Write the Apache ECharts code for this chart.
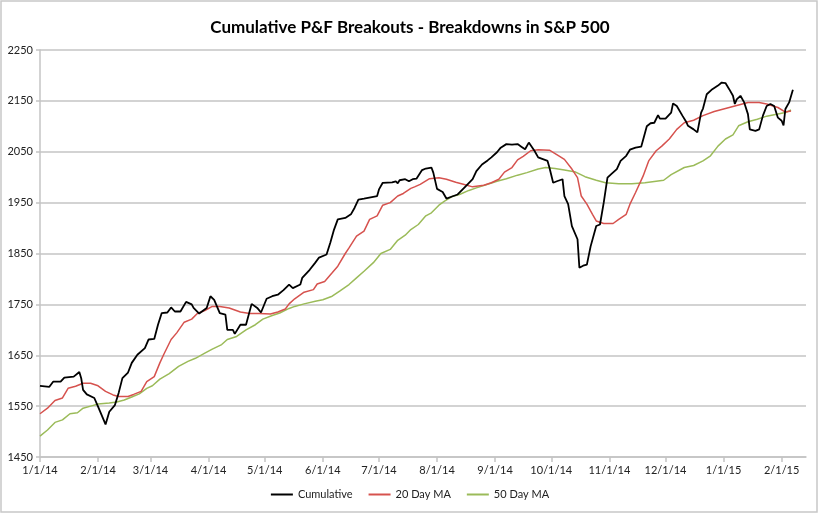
<!DOCTYPE html>
<html>
<head>
<meta charset="utf-8">
<script src="https://cdn.jsdelivr.net/npm/echarts@6/dist/echarts.min.js"></script>
<style>html,body{margin:0;padding:0;background:#fff}#c{width:820px;height:514px}</style>
</head>
<body>
<div id="c"></div>
<script>
const titleText = 'Cumulative P&F Breakouts - Breakdowns in S&P 500';
const seriesNames = ['Cumulative', '20 Day MA', '50 Day MA'];
const monthTicks = ['2014-01-01','2014-02-01','2014-03-01','2014-04-01','2014-05-01','2014-06-01','2014-07-01','2014-08-01','2014-09-01','2014-10-01','2014-11-01','2014-12-01','2015-01-01','2015-02-01'];
const yTicks = [1450, 1550, 1650, 1750, 1850, 1950, 2050, 2150, 2250];

const cumDates = ['2014-01-01','2014-01-06','2014-01-08','2014-01-12','2014-01-14','2014-01-19','2014-01-22','2014-01-23','2014-01-24','2014-01-26','2014-01-30','2014-02-01','2014-02-05','2014-02-07','2014-02-10','2014-02-12','2014-02-14','2014-02-17','2014-02-19','2014-02-22','2014-02-26','2014-02-28','2014-03-03','2014-03-05','2014-03-07','2014-03-10','2014-03-12','2014-03-14','2014-03-17','2014-03-20','2014-03-23','2014-03-24','2014-03-27','2014-03-31','2014-04-02','2014-04-04','2014-04-07','2014-04-10','2014-04-11','2014-04-14','2014-04-15','2014-04-18','2014-04-21','2014-04-24','2014-04-27','2014-04-29','2014-05-02','2014-05-05','2014-05-08','2014-05-11','2014-05-14','2014-05-16','2014-05-20','2014-05-21','2014-05-25','2014-05-28','2014-05-30','2014-06-03','2014-06-05','2014-06-07','2014-06-09','2014-06-13','2014-06-16','2014-06-18','2014-06-20','2014-06-23','2014-06-30','2014-07-01','2014-07-03','2014-07-08','2014-07-10','2014-07-11','2014-07-12','2014-07-15','2014-07-17','2014-07-19','2014-07-21','2014-07-24','2014-07-26','2014-07-29','2014-07-30','2014-08-01','2014-08-04','2014-08-06','2014-08-09','2014-08-12','2014-08-16','2014-08-20','2014-08-22','2014-08-25','2014-08-28','2014-08-30','2014-09-02','2014-09-04','2014-09-07','2014-09-10','2014-09-13','2014-09-15','2014-09-17','2014-09-19','2014-09-22','2014-09-24','2014-09-29','2014-09-30','2014-10-02','2014-10-04','2014-10-07','2014-10-08','2014-10-10','2014-10-12','2014-10-15','2014-10-16','2014-10-18','2014-10-20','2014-10-22','2014-10-25','2014-10-27','2014-10-29','2014-10-31','2014-11-02','2014-11-03','2014-11-05','2014-11-07','2014-11-10','2014-11-12','2014-11-15','2014-11-18','2014-11-19','2014-11-21','2014-11-23','2014-11-25','2014-11-27','2014-11-28','2014-12-01','2014-12-04','2014-12-05','2014-12-07','2014-12-10','2014-12-12','2014-12-13','2014-12-16','2014-12-18','2014-12-20','2014-12-21','2014-12-23','2014-12-26','2014-12-29','2014-12-31','2015-01-02','2015-01-04','2015-01-06','2015-01-07','2015-01-08','2015-01-10','2015-01-12','2015-01-14','2015-01-15','2015-01-18','2015-01-20','2015-01-22','2015-01-24','2015-01-26','2015-01-28','2015-01-30','2015-02-01','2015-02-02','2015-02-03','2015-02-05','2015-02-07'];
const cumValues = [1590,1588,1598,1598,1606,1608,1617,1605,1582,1573,1566,1549,1514,1539,1552,1576,1605,1616,1635,1651,1664,1681,1682,1710,1733,1734,1744,1736,1736,1755,1750,1743,1732,1743,1766,1759,1733,1730,1700,1700,1692,1710,1710,1751,1743,1734,1761,1766,1769,1778,1789,1782,1789,1802,1818,1832,1842,1848,1871,1897,1917,1920,1927,1940,1956,1958,1963,1976,1989,1990,1992,1988,1994,1996,1992,1996,1997,2014,2017,2019,2009,1977,1971,1958,1962,1966,1981,1996,2012,2025,2033,2039,2049,2058,2065,2064,2065,2060,2055,2068,2052,2039,2032,2019,1989,1992,1996,1963,1947,1904,1878,1822,1826,1828,1864,1904,1907,1950,1999,2006,2005,2016,2032,2042,2054,2058,2060,2073,2100,2106,2107,2122,2115,2115,2127,2145,2140,2121,2109,2101,2094,2088,2127,2135,2163,2173,2180,2186,2185,2173,2160,2144,2153,2160,2147,2124,2094,2091,2094,2121,2140,2144,2140,2117,2111,2102,2134,2147,2172];

const ma20Dates = ['2014-01-01','2014-01-05','2014-01-09','2014-01-13','2014-01-16','2014-01-20','2014-01-24','2014-01-28','2014-02-01','2014-02-05','2014-02-09','2014-02-12','2014-02-17','2014-02-20','2014-02-24','2014-02-27','2014-03-03','2014-03-06','2014-03-08','2014-03-12','2014-03-15','2014-03-19','2014-03-23','2014-03-26','2014-03-30','2014-04-03','2014-04-07','2014-04-12','2014-04-18','2014-04-23','2014-04-28','2014-05-04','2014-05-08','2014-05-12','2014-05-14','2014-05-17','2014-05-22','2014-05-27','2014-05-29','2014-06-02','2014-06-06','2014-06-09','2014-06-13','2014-06-15','2014-06-19','2014-06-23','2014-06-26','2014-06-30','2014-07-03','2014-07-07','2014-07-11','2014-07-14','2014-07-18','2014-07-20','2014-07-23','2014-07-28','2014-08-02','2014-08-06','2014-08-11','2014-08-15','2014-08-20','2014-08-26','2014-08-30','2014-09-03','2014-09-06','2014-09-10','2014-09-13','2014-09-16','2014-09-20','2014-09-24','2014-09-30','2014-10-05','2014-10-08','2014-10-12','2014-10-15','2014-10-17','2014-10-20','2014-10-23','2014-10-25','2014-10-29','2014-11-03','2014-11-06','2014-11-10','2014-11-12','2014-11-15','2014-11-19','2014-11-22','2014-11-26','2014-11-29','2014-12-03','2014-12-07','2014-12-11','2014-12-16','2014-12-21','2014-12-27','2015-01-01','2015-01-07','2015-01-14','2015-01-20','2015-01-24','2015-01-30','2015-02-03','2015-02-06'];
const ma20Values = [1535,1546,1561,1566,1585,1589,1595,1595,1590,1579,1572,1569,1569,1573,1579,1598,1608,1635,1651,1681,1694,1715,1721,1732,1738,1746,1746,1743,1735,1732,1732,1731,1735,1741,1751,1761,1774,1779,1790,1795,1812,1825,1850,1861,1884,1894,1917,1924,1945,1950,1963,1968,1978,1981,1986,1997,1999,1996,1990,1986,1981,1984,1989,1996,2010,2019,2034,2041,2052,2054,2053,2042,2035,2016,1999,1963,1947,1927,1914,1909,1909,1917,1927,1947,1970,2002,2032,2052,2061,2075,2094,2107,2112,2121,2129,2134,2140,2147,2147,2144,2137,2128,2130];

const ma50Dates = ['2014-01-01','2014-01-05','2014-01-09','2014-01-13','2014-01-17','2014-01-21','2014-01-24','2014-01-29','2014-02-01','2014-02-07','2014-02-11','2014-02-15','2014-02-19','2014-02-23','2014-02-27','2014-03-02','2014-03-06','2014-03-11','2014-03-16','2014-03-21','2014-03-25','2014-03-30','2014-04-03','2014-04-08','2014-04-11','2014-04-16','2014-04-21','2014-04-26','2014-04-30','2014-05-05','2014-05-09','2014-05-14','2014-05-17','2014-05-22','2014-05-28','2014-06-01','2014-06-06','2014-06-10','2014-06-15','2014-06-19','2014-06-23','2014-06-28','2014-07-02','2014-07-07','2014-07-11','2014-07-15','2014-07-18','2014-07-22','2014-07-26','2014-07-29','2014-08-02','2014-08-05','2014-08-09','2014-08-13','2014-08-18','2014-08-22','2014-08-28','2014-09-02','2014-09-07','2014-09-13','2014-09-18','2014-09-24','2014-09-28','2014-10-03','2014-10-08','2014-10-14','2014-10-19','2014-10-25','2014-10-30','2014-11-06','2014-11-13','2014-11-20','2014-11-26','2014-11-30','2014-12-04','2014-12-11','2014-12-16','2014-12-21','2014-12-25','2014-12-29','2015-01-02','2015-01-06','2015-01-09','2015-01-14','2015-01-19','2015-01-24','2015-01-30','2015-02-03','2015-02-06'];
const ma50Values = [1491,1503,1518,1523,1535,1537,1546,1551,1554,1556,1558,1562,1568,1574,1585,1590,1603,1614,1628,1638,1644,1654,1662,1671,1681,1687,1700,1710,1721,1728,1733,1742,1746,1751,1756,1759,1766,1776,1789,1802,1815,1832,1850,1858,1876,1886,1897,1907,1924,1930,1945,1953,1962,1966,1974,1979,1986,1992,1997,2004,2009,2016,2019,2017,2014,2010,2001,1994,1989,1987,1987,1989,1992,1994,2005,2019,2023,2032,2042,2061,2075,2083,2101,2109,2114,2120,2124,2127,2132];

function ts(s) { const p = s.split('-').map(Number); return new Date(p[0], p[1] - 1, p[2]).getTime(); }
function pairs(dates, vals) { return dates.map((d, i) => [ts(d), vals[i]]); }
function fmtDate(v) { const d = new Date(v); return (d.getMonth() + 1) + '/' + d.getDate() + '/' + String(d.getFullYear()).slice(2); }

const FONT = 'Lato';
const GRID = '#c4c4c4';
const tickVals = monthTicks.map(ts);

const chart = echarts.init(document.getElementById('c'), null, { renderer: 'canvas' });
chart.setOption({
  animation: false,
  backgroundColor: '#fff',
  textStyle: { fontFamily: FONT },
  graphic: [{
    type: 'rect', silent: true, z: -1,
    shape: { x: 1, y: 1, width: 816, height: 511 },
    style: { fill: 'none', stroke: '#c8c8c8', lineWidth: 1.5 }
  }],
  title: {
    text: titleText, left: 'center', top: 14,
    textStyle: { fontFamily: FONT, fontWeight: 'bold', fontSize: 17, color: '#000' }
  },
  legend: {
    bottom: 9, left: 'center', icon: 'rect', itemWidth: 22, itemHeight: 2, itemGap: 16,
    textStyle: { fontFamily: FONT, fontSize: 11, color: '#222' },
    data: seriesNames
  },
  grid: { left: 40, right: 14, top: 50, bottom: 57, containLabel: false },
  xAxis: {
    type: 'value',
    min: ts('2014-01-01'), max: ts('2015-02-14'),
    axisLine: { show: true, lineStyle: { color: GRID, width: 1.5 } },
    axisTick: { show: true, length: 5, customValues: tickVals, lineStyle: { color: GRID, width: 1.5 } },
    axisLabel: { customValues: tickVals, formatter: fmtDate, color: '#222', fontSize: 11, fontFamily: FONT, margin: 8 },
    splitLine: { show: false }
  },
  yAxis: {
    type: 'value', min: yTicks[0], max: yTicks[yTicks.length - 1], interval: 100,
    axisLine: { show: true, lineStyle: { color: GRID, width: 1.5 } },
    axisTick: { show: true, length: 4, lineStyle: { color: GRID, width: 1.5 } },
    axisLabel: { color: '#222', fontSize: 11, fontFamily: FONT, margin: 7, formatter: (v) => String(v) },
    splitLine: { show: true, lineStyle: { color: GRID, width: 1.5 } }
  },
  series: [
    { name: seriesNames[0], type: 'line', data: pairs(cumDates, cumValues), showSymbol: false, symbol: 'none',
      lineStyle: { color: '#000', width: 1.8 }, itemStyle: { color: '#000' }, z: 3 },
    { name: seriesNames[1], type: 'line', data: pairs(ma20Dates, ma20Values), showSymbol: false, symbol: 'none',
      lineStyle: { color: '#d6524e', width: 1.5 }, itemStyle: { color: '#d6524e' }, z: 2 },
    { name: seriesNames[2], type: 'line', data: pairs(ma50Dates, ma50Values), showSymbol: false, symbol: 'none',
      lineStyle: { color: '#9bbb59', width: 1.5 }, itemStyle: { color: '#9bbb59' }, z: 1 }
  ]
});
</script>
</body>
</html>
